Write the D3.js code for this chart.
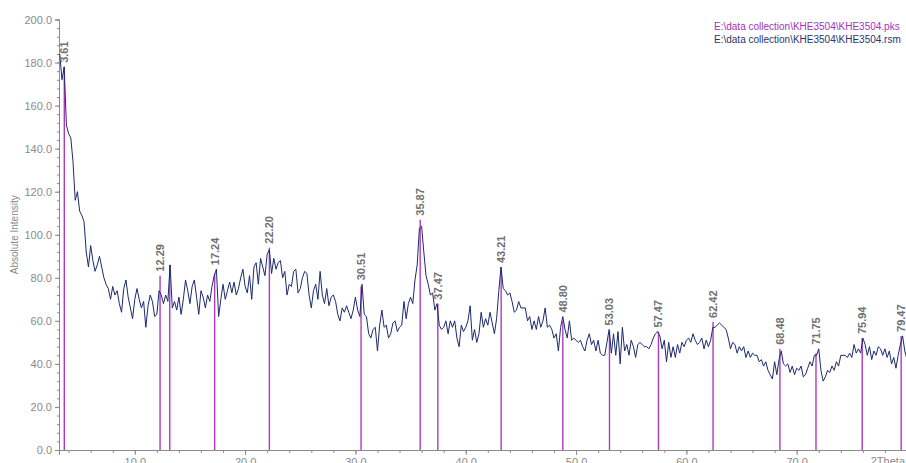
<!DOCTYPE html>
<html lang="en">
<head>
<meta charset="UTF-8">
<title>KHE3504</title>
<script src="https://cdn.jsdelivr.net/npm/d3@7"></script>
<style>
  body { margin: 0; background: #fff; }
  svg { display: block; font-family: "Liberation Sans", Arial, sans-serif; }
</style>
</head>
<body>
<div id="chart"></div>
<script>
// scan: 2Theta start/step and counts (one per 0.2 deg)
const scanStart = 3.2, scanStep = 0.2;
const scanCounts = [
  184,172,178,151,147,145,134,116,120,111,
  109,106, 92, 85, 95, 88, 83, 86, 90, 85,
   80, 77, 75, 70, 76, 72, 74, 68, 64, 75,
   79, 71, 66, 61, 70, 75, 70, 66, 69, 57,
   67, 72, 69, 62, 63, 74, 72, 68, 72, 69,
   86, 66, 69, 65, 71, 63, 70, 79, 74, 68,
   76, 79, 71, 63, 74, 71, 66, 72, 69, 76,
   81, 84, 62, 70, 77, 70, 74, 78, 73, 78,
   72, 75, 80, 84, 76, 73, 81, 70, 85, 87,
   77, 89, 85, 81, 91, 93, 82, 89, 84, 87,
   88, 80, 83, 72, 77, 76, 83, 84, 73, 75,
   80, 83, 82, 72, 66, 74, 77, 70, 83, 72,
   68, 75, 67, 71, 72, 69, 63, 60, 66, 64,
   67, 64, 61, 65, 71, 65, 62, 77, 63, 62,
   54, 52, 56, 57, 46, 58, 65, 57, 58, 52,
   54, 59, 60, 55, 57, 58, 69, 61, 68, 71,
   68, 79, 86,103,104, 92, 81, 77, 72, 73,
   65, 68, 58, 56, 57, 60, 54, 60, 57, 60,
   52, 48, 58, 55, 57, 60, 67, 51, 56, 50,
   54, 64, 57, 61, 58, 64, 59, 54, 61, 74,
   85, 75, 74, 72, 73, 69, 64, 65, 69, 66,
   66, 66, 60, 62, 56, 60, 56, 62, 57, 60,
   66, 57, 58, 56, 52, 54, 46, 57, 62, 56,
   52, 60, 51, 52, 51, 50, 51, 48, 46, 51,
   54, 49, 51, 46, 51, 45, 44, 44, 50, 56,
   45, 54, 44, 55, 40, 57, 46, 49, 44, 51,
   48, 43, 49, 50, 49, 48, 48, 47, 49, 52,
   54, 55, 53, 47, 51, 41, 50, 43, 48, 43,
   49, 45, 50, 48, 51, 52, 50, 54, 51, 49,
   50, 52, 47, 51, 48, 51, 57, 57, 58, 59,
   58, 57, 56, 52, 47, 50, 49, 45, 48, 46,
   48, 43, 46, 43, 45, 44, 44, 41, 42, 39,
   41, 37, 35, 33, 41, 35, 42, 46, 40, 39,
   40, 36, 39, 35, 38, 37, 39, 34, 35, 38,
   41, 39, 44, 44, 47, 37, 32, 34, 37, 36,
   39, 37, 41, 39, 44, 44, 44, 43, 45, 43,
   49, 45, 47, 45, 52, 49, 44, 48, 42, 46,
   44, 48, 47, 44, 47, 43, 46, 40, 43, 38,
   44, 49, 53, 46, 42
];

// peak list (.pks)
const peakPositions = [3.61, 12.29, 13.17, 17.24, 22.20, 30.51, 35.87, 37.47, 43.21,
                       48.80, 53.03, 57.47, 62.42, 68.48, 71.75, 75.94, 79.47];
const peakHeights   = [178, 81, 86, 82, 94, 76, 107, 68, 85,
                       60, 55, 55, 59.5, 47, 45, 52, 53];
const peakLabels    = ["3.61", "12.29", "", "17.24", "22.20", "30.51", "35.87", "37.47", "43.21",
                       "48.80", "53.03", "57.47", "62.42", "68.48", "71.75", "75.94", "79.47"];

const xMajorTicks = [10, 20, 30, 40, 50, 60, 70];
const yMajorTicks = [0, 20, 40, 60, 80, 100, 120, 140, 160, 180, 200];
const legendLines = ["E:\\data collection\\KHE3504\\KHE3504.pks",
                     "E:\\data collection\\KHE3504\\KHE3504.rsm"];

const width = 906, height = 463;
const plotLeft = 59, plotTop = 19.5, plotBottom = 450;

const svg = d3.select("#chart").append("svg")
  .attr("width", width)
  .attr("height", height);

const x = d3.scaleLinear().domain([3.13, 80]).range([plotLeft, 907]);
const y = d3.scaleLinear().domain([0, 200]).range([plotBottom, plotTop]);

const axisColor = "#8c8c8c";

// x axis: minor ticks every 2, labelled every 10
const xMinor = svg.append("g")
  .attr("transform", `translate(0,${plotBottom})`)
  .call(d3.axisBottom(x).tickValues(d3.range(4, 80, 2)).tickSize(3).tickFormat(""));
const xMajor = svg.append("g")
  .attr("transform", `translate(0,${plotBottom})`)
  .call(d3.axisBottom(x).tickValues(xMajorTicks).tickSize(5).tickPadding(3)
    .tickFormat(d3.format(".1f")));
[xMinor, xMajor].forEach(g => {
  g.select(".domain").attr("stroke", axisColor);
  g.selectAll(".tick line").attr("stroke", axisColor);
  g.selectAll("text").attr("fill", "#8a8a8a").style("font-size", "11px")
    .style("font-family", "'Liberation Sans', Arial, sans-serif");
});

svg.append("text")
  .attr("x", 905)
  .attr("y", 465)
  .attr("text-anchor", "end")
  .attr("fill", "#8a8a8a")
  .style("font-size", "11px")
  .text("2Theta");

// y axis: minor ticks every 4, labelled every 20
const yMinor = svg.append("g")
  .attr("transform", `translate(${plotLeft},0)`)
  .call(d3.axisLeft(y).tickValues(d3.range(0, 201, 4)).tickSize(2).tickFormat(""));
const yMajor = svg.append("g")
  .attr("transform", `translate(${plotLeft},0)`)
  .call(d3.axisLeft(y).tickValues(yMajorTicks).tickSize(4).tickPadding(3)
    .tickFormat(d3.format(".1f")));
[yMinor, yMajor].forEach(g => {
  g.select(".domain").attr("stroke", axisColor);
  g.selectAll(".tick line").attr("stroke", axisColor);
  g.selectAll("text").attr("fill", "#8a8a8a").style("font-size", "11px")
    .style("font-family", "'Liberation Sans', Arial, sans-serif");
});

svg.append("text")
  .attr("transform", `translate(18,${(plotTop + plotBottom) / 2}) rotate(-90)`)
  .attr("text-anchor", "middle")
  .attr("fill", "#8a8a8a")
  .style("font-size", "10px")
  .text("Absolute Intensity");

// peak sticks
const peaks = peakPositions.map((p, i) => ({ pos: p, h: peakHeights[i], label: peakLabels[i] }));

svg.append("g")
  .selectAll("line")
  .data(peaks)
  .join("line")
  .attr("x1", d => x(d.pos))
  .attr("x2", d => x(d.pos))
  .attr("y1", y(0))
  .attr("y2", d => y(d.h))
  .attr("stroke", "#b03ac2")
  .attr("stroke-width", 1.4);

// measured scan
const scan = scanCounts.map((c, i) => ({ tt: scanStart + i * scanStep, c: c }));

svg.append("path")
  .datum(scan)
  .attr("fill", "none")
  .attr("stroke", "#1c2a6e")
  .attr("stroke-width", 1)
  .attr("d", d3.line()
    .x(d => x(d.tt))
    .y(d => y(d.c)));

// peak labels sit just above the highest point near the peak
function labelTop(d) {
  const near = scan.filter(s => Math.abs(s.tt - d.pos) <= 0.3).map(s => s.c);
  return y(Math.max(d.h, d3.max(near) || 0)) - 4;
}

svg.append("g")
  .selectAll("text")
  .data(peaks.filter(d => d.label !== ""))
  .join("text")
  .attr("transform", d => `translate(${x(d.pos) + 4},${labelTop(d)}) rotate(-90)`)
  .attr("fill", "#707070")
  .style("font-size", "11px")
  .style("font-weight", "bold")
  .text(d => d.label);

// file legend
svg.append("g")
  .selectAll("text")
  .data(legendLines)
  .join("text")
  .attr("x", 714)
  .attr("y", (d, i) => 30 + i * 13)
  .attr("fill", (d, i) => i === 0 ? "#a035b4" : "#2a3470")
  .style("font-size", "10px")
  .text(d => d);
</script>
</body>
</html>
